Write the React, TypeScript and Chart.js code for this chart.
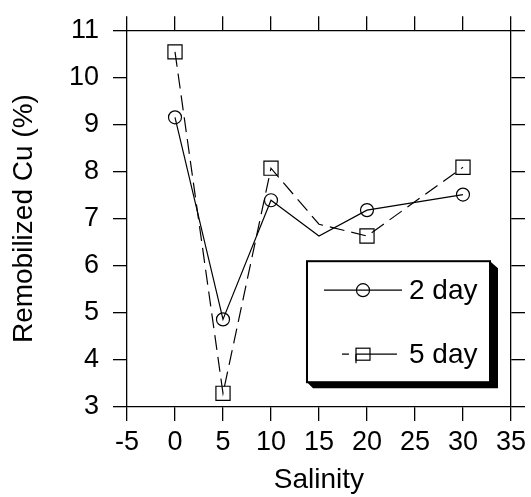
import React, { useEffect, useRef } from 'react';
import { Chart, registerables } from 'chart.js';

Chart.register(...registerables);

// ---- data ----
const salinity = [0, 5, 10, 15, 20, 30];
const day2Values = [9.15, 4.86, 7.39, 6.63, 7.18, 7.51];
const day5Values = [10.54, 3.29, 8.07, 6.88, 6.63, 8.09];
const day2HasMarker = [true, true, true, false, true, true];
const day5HasMarker = [true, true, true, false, true, true];
const seriesLabels = ['2 day', '5 day'];
const xAxisTitle = 'Salinity';
const yAxisTitle = 'Remobilized Cu (%)';
const xMin = -5;
const xMax = 35;
const xStep = 5;
const yMin = 3;
const yMax = 11;
const yStep = 1;

const FONT = '"Liberation Sans", Arial, Helvetica, sans-serif';

const legendPlugin = {
  id: 'boxLegend',
  afterDraw(chart: any) {
    const { ctx, chartArea } = chart;
    const L = chartArea.left + 180;
    const T = chartArea.top + 231;
    const W = 183;
    const H = 121;
    ctx.save();
    // shadow
    ctx.fillStyle = '#000';
    ctx.beginPath();
    ctx.moveTo(L + W, T);
    ctx.lineTo(L + W + 8, T + 7);
    ctx.lineTo(L + W + 8, T + H + 6);
    ctx.lineTo(L + 6, T + H + 6);
    ctx.lineTo(L, T + H);
    ctx.closePath();
    ctx.fill();
    // box
    ctx.fillStyle = '#fff';
    ctx.fillRect(L, T, W, H);
    ctx.strokeStyle = '#000';
    ctx.lineWidth = 2;
    ctx.strokeRect(L, T, W, H);

    const ds = chart.data.datasets;
    // row 1
    const y1 = T + 29;
    ctx.lineWidth = 1.2;
    ctx.setLineDash([]);
    ctx.beginPath();
    ctx.moveTo(L + 17, y1);
    ctx.lineTo(L + 95, y1);
    ctx.stroke();
    ctx.beginPath();
    ctx.arc(L + 56, y1, 6.5, 0, Math.PI * 2);
    ctx.stroke();
    // row 2
    const y2 = T + 93;
    ctx.beginPath();
    ctx.moveTo(L + 35, y2);
    ctx.lineTo(L + 42, y2);
    ctx.moveTo(L + 49, y2);
    ctx.lineTo(L + 90, y2);
    ctx.moveTo(L + 49, y2);
    ctx.lineTo(L + 49, y2 + 9);
    ctx.stroke();
    ctx.strokeRect(L + 49, y2 - 6, 14, 12);

    ctx.fillStyle = '#000';
    ctx.font = '28px ' + FONT;
    ctx.textAlign = 'left';
    ctx.textBaseline = 'middle';
    ctx.fillText(ds[0].label, L + 102, y1 + 1);
    ctx.fillText(ds[1].label, L + 102, y2 + 1);
    ctx.restore();
  },
};

function makePoints(xs: number[], ys: number[]) {
  return xs.map((x, i) => ({ x, y: ys[i] }));
}

export default function App() {
  const canvasRef = useRef<HTMLCanvasElement | null>(null);

  useEffect(() => {
    const canvas = canvasRef.current;
    if (!canvas) return;
    const tickFont = { family: FONT, size: 27 };
    const axisCommon = {
      grid: {
        display: true,
        drawOnChartArea: false,
        drawTicks: true,
        tickLength: 14,
        color: '#000',
        lineWidth: 1.3,
      },
      border: { display: true, color: '#000', width: 1.3 },
    };
    const chart = new Chart(canvas, {
      type: 'line',
      data: {
        datasets: [
          {
            label: seriesLabels[0],
            data: makePoints(salinity, day2Values),
            borderColor: '#000',
            borderWidth: 1.2,
            pointStyle: 'circle',
            pointRadius: day2HasMarker.map((m) => (m ? 6.5 : 0)),
            pointBorderColor: '#000',
            pointBackgroundColor: 'rgba(0,0,0,0)',
            pointBorderWidth: 1.2,
            tension: 0,
            fill: false,
          },
          {
            label: seriesLabels[1],
            data: makePoints(salinity, day5Values),
            borderColor: '#000',
            borderWidth: 1.2,
            borderDash: [15, 7],
            pointStyle: 'rect',
            pointRadius: day5HasMarker.map((m) => (m ? 10 : 0)),
            pointBorderColor: '#000',
            pointBackgroundColor: 'rgba(0,0,0,0)',
            pointBorderWidth: 1.2,
            tension: 0,
            fill: false,
          },
        ],
      },
      options: {
        animation: false,
        responsive: false,
        maintainAspectRatio: false,
        layout: { padding: 0 },
        plugins: {
          legend: { display: false },
          tooltip: { enabled: false },
        },
        scales: {
          x: {
            type: 'linear',
            position: 'bottom',
            min: xMin,
            max: xMax,
            ...axisCommon,
            ticks: { stepSize: xStep, color: '#000', font: tickFont, padding: 5, maxRotation: 0, autoSkip: false },
            title: {
              display: true,
              text: xAxisTitle,
              color: '#000',
              font: { family: FONT, size: 28 },
              padding: { top: 0, bottom: 0 },
            },
            afterFit: (s: any) => {
              s.height = 90;
            },
          },
          x2: {
            type: 'linear',
            position: 'top',
            min: xMin,
            max: xMax,
            ...axisCommon,
            ticks: { stepSize: xStep, display: false },
            afterFit: (s: any) => {
              s.height = 24;
            },
          },
          y: {
            type: 'linear',
            position: 'left',
            min: yMin,
            max: yMax,
            ...axisCommon,
            ticks: { stepSize: yStep, color: '#000', font: tickFont, padding: 14 },
            title: {
              display: true,
              text: yAxisTitle,
              color: '#000',
              font: { family: FONT, size: 28 },
              padding: { top: 7, bottom: 0 },
            },
            afterFit: (s: any) => {
              s.width = 127;
            },
          },
          y2: {
            type: 'linear',
            position: 'right',
            min: yMin,
            max: yMax,
            ...axisCommon,
            ticks: { stepSize: yStep, display: false },
            afterFit: (s: any) => {
              s.width = 18;
            },
          },
        },
      } as any,
      plugins: [legendPlugin],
    });
    return () => chart.destroy();
  }, []);

  return (
    <div style={{ position: 'absolute', left: 0, top: 0, width: 531, height: 497, background: '#fff' }}>
      <canvas ref={canvasRef} width={531} height={497} style={{ display: 'block', width: 531, height: 497 }} />
    </div>
  );
}
